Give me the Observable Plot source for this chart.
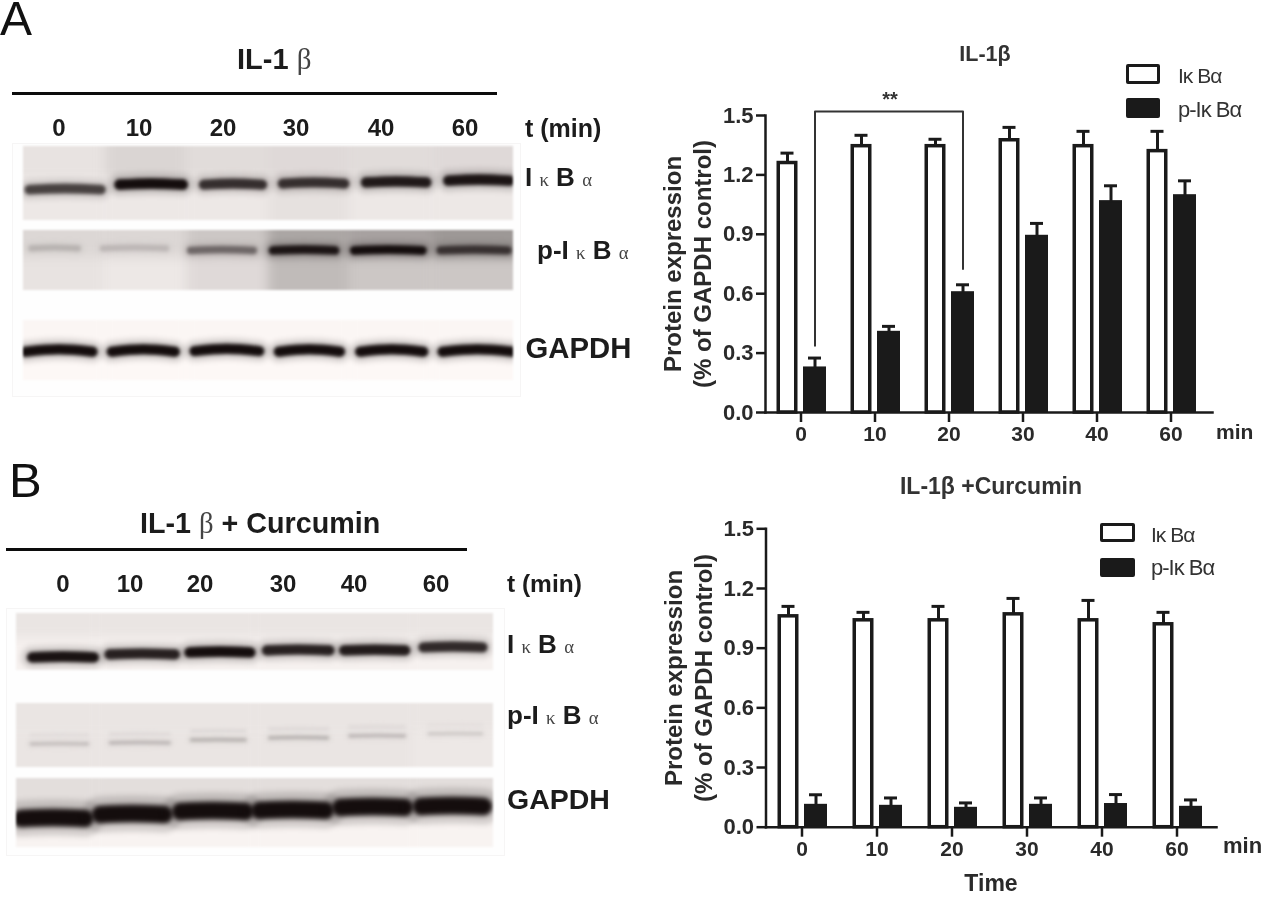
<!DOCTYPE html>
<html>
<head>
<meta charset="utf-8">
<script src="https://cdn.jsdelivr.net/npm/d3@7"></script>
<script src="https://cdn.jsdelivr.net/npm/@observablehq/plot@0.6"></script>
<style>
html,body{margin:0;padding:0;background:#fff}
#page{position:relative;width:1284px;height:918px;overflow:hidden;font-family:"Liberation Sans",Arial,sans-serif;color:#1c1c1c}
.abs{position:absolute;white-space:pre;line-height:1}
.g{font-family:"Liberation Serif",serif;font-weight:400;color:#444;font-size:.72em}
.swatch{position:absolute;box-sizing:border-box;border:3px solid #1a1a1a;border-radius:2px}
.chart,.strip{position:absolute}
</style>
</head>
<body>
<div id="page"></div>
<script>
// ---------- bar chart values ----------
const times = ["0","10","20","30","40","60"];
const ticksY = [0, 0.3, 0.6, 0.9, 1.2, 1.5];

const aTotal    = [1.26, 1.345, 1.345, 1.375, 1.345, 1.32];
const aTotalTop = [1.31, 1.40, 1.38, 1.44, 1.42, 1.42];
const aPhospho    = [0.225, 0.405, 0.605, 0.89, 1.065, 1.095];
const aPhosphoTop = [0.275, 0.435, 0.645, 0.955, 1.145, 1.17];

const bTotal    = [1.06, 1.04, 1.04, 1.07, 1.04, 1.02];
const bTotalTop = [1.11, 1.08, 1.11, 1.15, 1.14, 1.08];
const bPhospho    = [0.11, 0.105, 0.095, 0.11, 0.114, 0.10];
const bPhosphoTop = [0.163, 0.147, 0.122, 0.147, 0.164, 0.137];

// significance bracket of panel A, from 0 min to 20 min
const bracketTimes = ["0","0","20","20"];
const bracketLevels = [0.337, 1.52, 1.52, 0.725];

// ---------- blot readings, in % of strip width / height; darkness 0..1 ----------
const a1From=[1.2,19.6,36.8,52.9,69.9,86.7], a1To=[15.8,32.5,48.7,65.5,82.2,99.2];
const a1Mig=[56.8,50,50,48.6,47,44.6], a1Dark=[.78,1,.86,.86,.95,.97];
const a1Top=[.09,.15,.12,.13,.12,.13], a1Bottom=[.07,.07,.07,.1,.07,.07];

const a2From=[1.6,16.2,34.1,50.9,67.5,85.1], a2To=[11.1,29.1,46.9,63.6,81.4,98.8];
const a2Mig=[28.3,28.3,31.7,31.7,31.7,31.7], a2Dark=[.3,.28,.62,.97,1,.85];
const a2Top=[.14,.14,.21,.35,.37,.41], a2Bottom=[.09,.07,.13,.26,.21,.21];

const a3From=[.4,18,34.9,52.1,68.7,85.5], a3To=[14.1,30.9,48.1,64.6,81.6,99.8];
const a3Mig=[48,48,47,48,48,48], a3Dark=[1,1,1,1,1,1];
const a3Top=[.01,.01,.01,.01,.01,.01], a3Bottom=[0,0,0,0,0,0];

const b1From=[3.3,19.5,36.3,52.5,68.7,85.3], b1To=[16.2,33.2,49,65.6,81.5,97.7];
const b1Mig=[75.4,70.2,66.7,63.2,63.2,57.9], b1Dark=[.98,.92,1,.92,.94,.88];
const b1Top=[.08,.08,.08,.08,.08,.08], b1Bottom=[.03,.03,.03,.03,.03,.03];

const b2From=[3.1,19.7,36.7,53.1,69.9,86.5], b2To=[14.9,32,47.9,65.2,81.3,97.5];
const b2Mig=[62.5,60.9,56.3,53.1,50,46.9], b2Dark=[.25,.28,.3,.3,.28,.2];
const b2Top=[.08,.08,.08,.08,.08,.08], b2Bottom=[.08,.08,.08,.08,.08,.07];

const b3From=[1,17.6,34.4,51,68,84.9], b3To=[14.3,30.9,47.9,64.7,81.3,97.9];
const b3Mig=[56.5,50.7,46.4,44.9,40.6,39.1], b3Dark=[1,1,1,1,1,1];
const b3Top=[.11,.11,.11,.11,.11,.11], b3Bottom=[.02,.02,.02,.02,.02,.02];

const page = document.getElementById("page");
const fontFamily = '"Liberation Sans",Arial,sans-serif';

function label(html, left, top, size, opts = {}) {
  const d = document.createElement("div");
  d.className = "abs";
  d.innerHTML = html;
  d.style.left = left + "px";
  d.style.top = top + "px";
  d.style.fontSize = size + "px";
  d.style.fontWeight = opts.weight || "bold";
  d.style.color = opts.color || "#1c1c1c";
  if (opts.spacing) d.style.letterSpacing = opts.spacing;
  if (opts.lineHeight) d.style.lineHeight = opts.lineHeight;
  d.style.transform = `translate(${opts.center ? "-50%" : "0"},-50%)`;
  d.style.filter = "blur(.4px)";
  page.appendChild(d);
}
function rule(left, top, width, height) {
  const d = document.createElement("div");
  d.style.cssText = `position:absolute;left:${left}px;top:${top}px;width:${width}px;height:${height}px;background:#0c0c0c`;
  page.appendChild(d);
}
function frameBox(left, top, width, height) {
  const d = document.createElement("div");
  d.style.cssText = `position:absolute;box-sizing:border-box;left:${left}px;top:${top}px;width:${width}px;height:${height}px;background:#fefefe;border:1px solid #f6f5f5`;
  page.appendChild(d);
}
function swatch(left, top, width, height, fill) {
  const d = document.createElement("div");
  d.className = "swatch";
  d.style.cssText += `left:${left}px;top:${top}px;width:${width}px;height:${height}px;background:${fill}`;
  page.appendChild(d);
}
const blurred = (px) => (index, scales, values, dimensions, context, next) => {
  const g = next(index, scales, values, dimensions, context);
  g.style.filter = `blur(${px}px)`;
  return g;
};

// ---------- one western-blot strip ----------
function strip(s) {
  const cells = [];
  s.top.forEach((d, i) => {
    const x1 = i === 0 ? -20 : (i * 100) / 6, x2 = i === 5 ? 120 : ((i + 1) * 100) / 6;
    cells.push({x1, x2, y1: -30, y2: 45, d}, {x1, x2, y1: 45, y2: 130, d: s.bottom[i]});
  });
  const bandPoints = (from, to, mig, dark) => {
    const mid = (from + to) / 2;
    return [{x: from, y: mig + s.bow, dark}, {x: mid, y: mig, dark}, {x: to, y: mig + s.bow, dark}];
  };
  const bandMarks = [];
  s.from.forEach((f, i) => {
    const pts = bandPoints(f, s.to[i], s.mig[i], s.dark[i]);
    const w = s.thick * (0.55 + 0.45 * s.dark[i]);
    bandMarks.push(
      Plot.line(pts, {x: "x", y: "y", stroke: "dark", strokeWidth: w * 2, strokeOpacity: 0.16, curve: "natural", strokeLinecap: "round", render: blurred(2.5)}),
      Plot.line(pts, {x: "x", y: "y", stroke: "dark", strokeWidth: w, curve: "natural", strokeLinecap: "round", render: blurred(s.blur)})
    );
    if (s.ghost) {
      const up = bandPoints(f, s.to[i], s.mig[i] - s.ghost, s.dark[i] * 0.75);
      bandMarks.push(Plot.line(up, {x: "x", y: "y", stroke: "dark", strokeWidth: w, strokeOpacity: 0.35, curve: "natural", render: blurred(s.blur)}));
    }
  });
  const svg = Plot.plot({
    width: s.width, height: s.height, margin: 0,
    style: {background: "transparent"},
    x: {domain: [0, 100], axis: null},
    y: {domain: [100, 0], axis: null},
    color: {type: "linear", domain: [0, 1], range: ["#fdf8f6", "#140d0d"]},
    marks: [
      Plot.rect(cells, {x1: "x1", x2: "x2", y1: "y1", y2: "y2", fill: "d", render: blurred(6)}),
      ...bandMarks
    ]
  });
  svg.classList.add("strip");
  svg.style.left = s.left + "px";
  svg.style.top = s.y + "px";
  svg.style.filter = "blur(.8px)";
  page.appendChild(svg);
}

// ---------- one bar chart ----------
function chart(c) {
  const rows = times.map((t, i) => ({t, v1: c.total[i], t1: c.totalTop[i], v2: c.phospho[i], t2: c.phosphoTop[i]}));
  const ink = "#1a1a1a";
  const marks = [
    Plot.barY(rows, {x: "t", y: "v2", dx: c.dxP, fill: ink, stroke: ink, strokeWidth: 2}),
    Plot.ruleX(rows, {x: "t", y1: "v2", y2: "t2", dx: c.dxP, stroke: ink, strokeWidth: 3}),
    Plot.tickY(rows, {x: "t", y: "t2", dx: c.dxP, stroke: ink, strokeWidth: 3, insetLeft: 4, insetRight: 4}),
    Plot.ruleX(rows, {x: "t", y1: "v1", y2: "t1", dx: c.dxT, stroke: ink, strokeWidth: 3}),
    Plot.tickY(rows, {x: "t", y: "t1", dx: c.dxT, stroke: ink, strokeWidth: 3, insetLeft: 4, insetRight: 4}),
    Plot.barY(rows, {x: "t", y: "v1", dx: c.dxT, fill: "#fff", stroke: ink, strokeWidth: 3.5, insetLeft: 1.75, insetRight: 1.75}),
    Plot.frame({anchor: "left", stroke: ink, strokeWidth: 2.5}),
    Plot.frame({anchor: "bottom", stroke: ink, strokeWidth: 2.5}),
    Plot.axisY({ticks: ticksY, tickFormat: d3.format(".1f"), label: null, tickSize: 9, tickPadding: 3, strokeWidth: 2.5, fontSize: 22, fill: "#2a2a2a", stroke: ink}),
    Plot.axisX({label: null, tickSize: 10, tickPadding: 4, strokeWidth: 2.5, fill: "#2a2a2a", stroke: ink}),
    Plot.text(["Protein expression\n(% of GAPDH control)"], {
      frameAnchor: "left", rotate: -90, dx: -79, fontSize: 24, lineHeight: 1.25, textAnchor: "middle", fill: "#2a2a2a"
    })
  ];
  if (c.bracket) {
    marks.push(Plot.line(c.bracket, {x: "t", y: "y", dx: c.dxP, stroke: "#333", strokeWidth: 2}));
  }
  const svg = Plot.plot({
    width: c.width, height: c.height,
    marginLeft: c.marginLeft, marginRight: c.marginRight, marginTop: c.marginTop, marginBottom: c.marginBottom,
    style: {background: "transparent", fontFamily, fontWeight: "bold", fontSize: "21px"},
    x: {type: "band", domain: times, paddingInner: c.pi, paddingOuter: c.po, align: c.align},
    y: {domain: [0, 1.5], nice: false},
    marks
  });
  svg.classList.add("chart");
  svg.style.left = c.left + "px";
  svg.style.top = c.top + "px";
  svg.style.filter = "blur(.4px)";
  page.appendChild(svg);
}

// ===== Panel A =====
label("A", 0, 19, 48, {weight: "normal", color: "#111", lineHeight: .72});
label('IL-1 <span class="g" style="font-size:1em">β</span>', 237, 59, 29);
rule(12, 91.5, 485, 3);
const laneLabelsA = [59, 139, 223, 296, 381, 465];
times.forEach((t, i) => label(t, laneLabelsA[i], 128, 24, {center: true}));
label("t (min)", 525, 128, 25);
frameBox(12, 143, 509, 254);
strip({left: 22.5, y: 146, width: 490, height: 74, top: a1Top, bottom: a1Bottom, from: a1From, to: a1To, mig: a1Mig, dark: a1Dark, thick: 11, bow: 1.5, blur: 1.5});
strip({left: 22.5, y: 230, width: 490, height: 60, top: a2Top, bottom: a2Bottom, from: a2From, to: a2To, mig: a2Mig, dark: a2Dark, thick: 9, bow: 1.5, blur: 1.5});
strip({left: 22.5, y: 320, width: 490, height: 60, top: a3Top, bottom: a3Bottom, from: a3From, to: a3To, mig: a3Mig, dark: a3Dark, thick: 10.5, bow: 4, blur: 1.5});
label('I <span class="g">κ</span> B <span class="g">α</span>', 525, 177, 26);
label('p-I <span class="g">κ</span> B <span class="g">α</span>', 537, 250, 26);
label("GAPDH", 525.5, 348, 29.3);

chart({
  left: 640, top: 30, width: 600, height: 440,
  marginLeft: 125, marginRight: 28, marginTop: 85, marginBottom: 58,
  total: aTotal, totalTop: aTotalTop, phospho: aPhospho, phosphoTop: aPhosphoTop,
  pi: .72, po: .36, align: .45, dxT: -13.5, dxP: 14,
  bracket: bracketTimes.map((t, i) => ({t, y: bracketLevels[i]}))
});
label("**", 890, 99, 20, {center: true, color: "#333"});
label("IL-1β", 985, 55, 21.5, {center: true, color: "#333"});
swatch(1126, 64, 34, 20, "#fff");
swatch(1126, 98, 34, 20, "#1a1a1a");
label("Iκ Bα", 1178, 75, 21, {weight: "normal", color: "#333", spacing: "-1px"});
label("p-Iκ Bα", 1178, 110, 22, {weight: "normal", color: "#333", spacing: "-1px"});
label("min", 1216, 431, 21, {color: "#2a2a2a"});

// ===== Panel B =====
label("B", 9, 480, 49, {weight: "normal", color: "#111"});
label('IL-1 <span class="g" style="font-size:1em">β</span> + Curcumin', 140, 523, 28.7);
rule(6, 548, 461, 3);
const laneLabelsB = [63, 130, 200, 283, 354, 436];
times.forEach((t, i) => label(t, laneLabelsB[i], 584, 24, {center: true}));
label("t (min)", 507, 584, 24.5);
frameBox(6, 608, 499, 248);
strip({left: 15.5, y: 613, width: 477, height: 57, top: b1Top, bottom: b1Bottom, from: b1From, to: b1To, mig: b1Mig, dark: b1Dark, thick: 11, bow: 1.5, blur: 1.6});
strip({left: 15.5, y: 703, width: 477, height: 64, top: b2Top, bottom: b2Bottom, from: b2From, to: b2To, mig: b2Mig, dark: b2Dark, thick: 5.5, bow: 0.5, blur: 1.4, ghost: 14});
strip({left: 15.5, y: 778, width: 477, height: 69, top: b3Top, bottom: b3Bottom, from: b3From, to: b3To, mig: b3Mig, dark: b3Dark, thick: 18, bow: 1.5, blur: 2});
label('I <span class="g">κ</span> B <span class="g">α</span>', 507, 644, 26);
label('p-I <span class="g">κ</span> B <span class="g">α</span>', 507, 715, 26);
label("GAPDH", 507, 799, 28.5);

chart({
  left: 640, top: 460, width: 600, height: 450,
  marginLeft: 125.5, marginRight: 24, marginTop: 68.3, marginBottom: 83.3,
  total: bTotal, totalTop: bTotalTop, phospho: bPhospho, phosphoTop: bPhosphoTop,
  pi: .72, po: .356, align: .46, dxT: -13.5, dxP: 14
});
label("Time", 991, 883, 23, {center: true, color: "#2a2a2a"});
label("IL-1β +Curcumin", 991, 486, 23, {center: true, color: "#333"});
swatch(1100, 523, 35, 19, "#fff");
swatch(1100, 558, 35, 19, "#1a1a1a");
label("Iκ Bα", 1151, 534, 21, {weight: "normal", color: "#333", spacing: "-1px"});
label("p-Iκ Bα", 1151, 568, 22, {weight: "normal", color: "#333", spacing: "-1px"});
label("min", 1223, 846, 22, {color: "#2a2a2a"});
</script>
</body>
</html>
